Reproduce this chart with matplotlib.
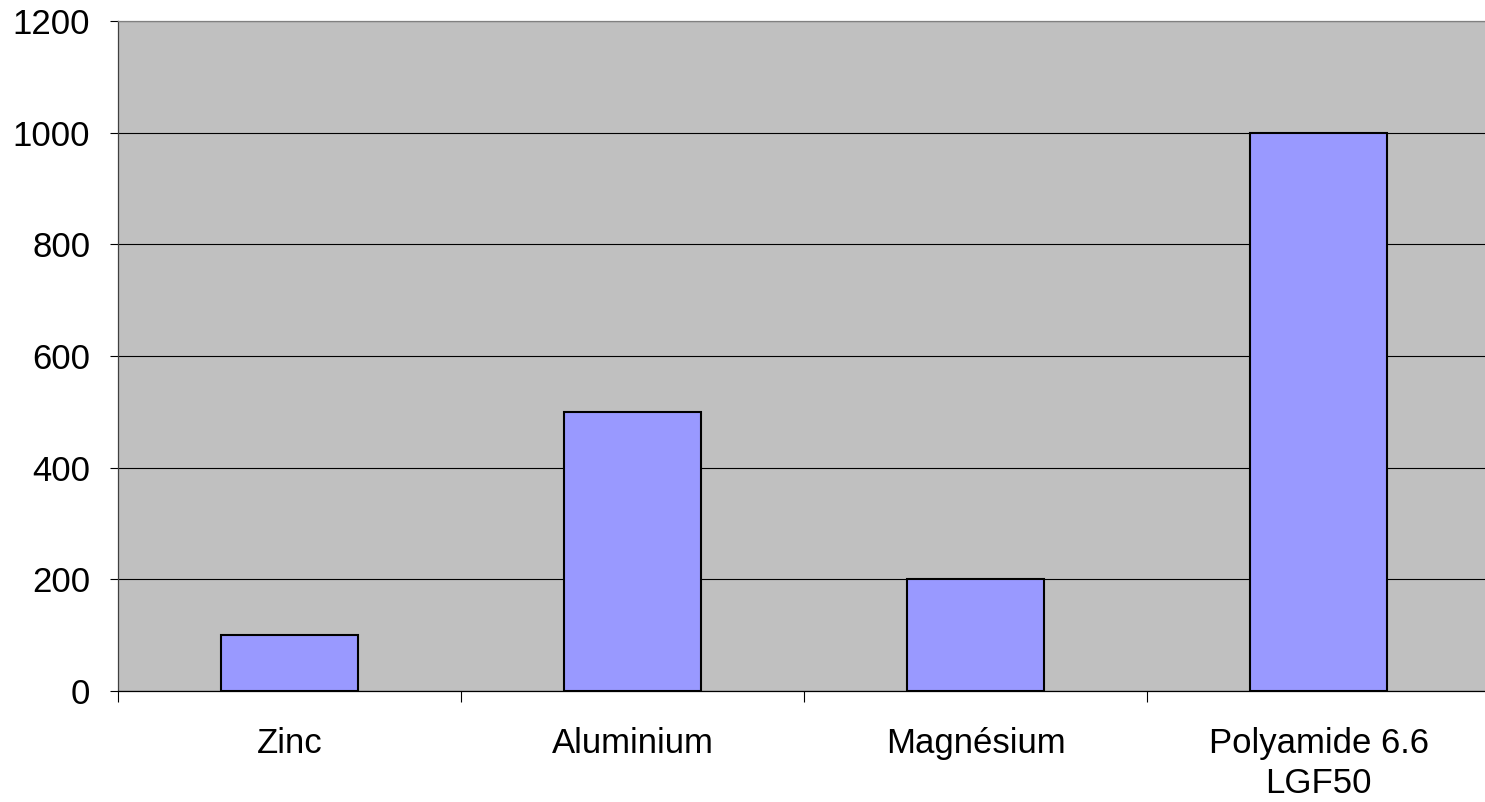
import numpy as np
import matplotlib.pyplot as plt

plt.rcParams['font.family'] = ['Liberation Sans', 'DejaVu Sans']

# data
materials = ['Zinc', 'Aluminium', 'Magnésium', 'Polyamide 6.6\nLGF50']
values = [100, 500, 200, 1000]
yticks = [0, 200, 400, 600, 800, 1000, 1200]

fig = plt.figure(figsize=(14.85, 8.02), dpi=100)
ax = fig.add_axes([118/1485, 111/802, 1372/1485, 670/802])
ax.set_facecolor('#C0C0C0')

x = np.arange(len(materials))
ax.bar(x, values, width=0.4, color='#9999FF', edgecolor='black', linewidth=1.5, zorder=3)

ax.set_xlim(-0.5, len(materials) - 0.5)
ax.set_ylim(0, 1200)
ax.set_yticks(yticks)
ax.yaxis.grid(True, color='black', linewidth=0.8, zorder=1)
ax.set_axisbelow(True)

# category labels at centres, tick marks at boundaries
ax.set_xticks(x)
ax.set_xticklabels(materials, fontsize=25, linespacing=1.28)
ax.tick_params(axis='x', which='major', length=0, pad=26)
ax.set_xticks(np.arange(-0.5, len(materials), 1.0), minor=True)
ax.tick_params(axis='x', which='minor', length=8, width=0.8, color='black', direction='out')
ax.tick_params(axis='y', labelsize=25, length=6, width=0.8, pad=14)

ax.spines['right'].set_visible(False)
ax.spines['top'].set_color('#808080')
ax.spines['left'].set_color('#404040')
ax.spines['bottom'].set_color('black')
for s in ax.spines.values():
    s.set_linewidth(0.9)

fig.savefig('out.png', dpi=100)
